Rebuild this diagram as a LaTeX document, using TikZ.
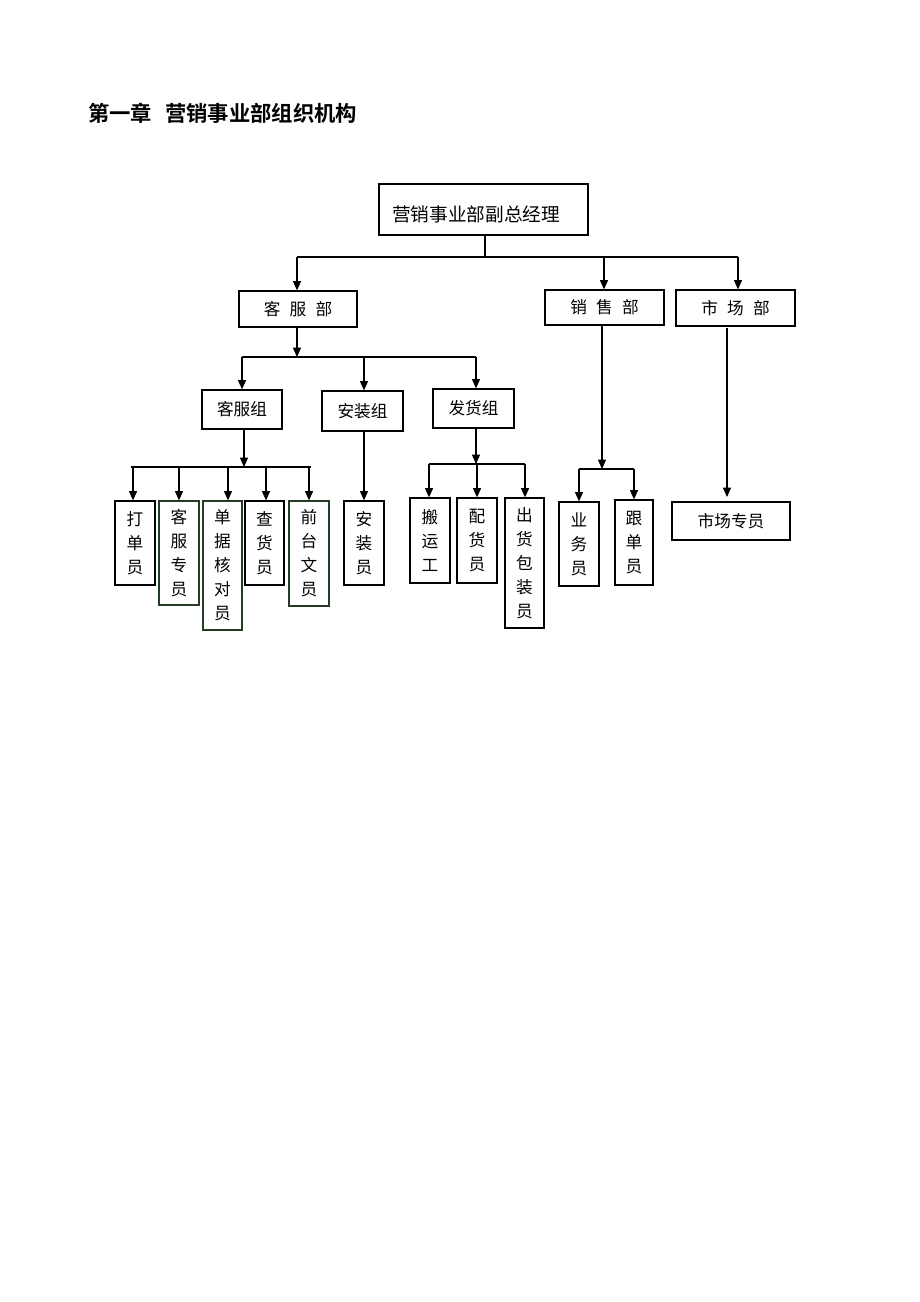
\documentclass[tikz,border=0pt]{standalone}
\usepackage{fontspec}
\setmainfont{Noto Sans CJK SC}
\newfontfamily\cjkbold{Noto Sans CJK SC Bold}
\usetikzlibrary{arrows.meta}
\definecolor{bdgreen}{RGB}{35,60,35}
\tikzset{
  box/.style={draw=black, line width=0.9pt, inner sep=0pt, align=center, font=\fontsize{12.5pt}{18pt}\selectfont},
  gbox/.style={box, draw=bdgreen},
  conn/.style={line width=0.9pt},
  arr/.style={line width=0.9pt, -{Triangle[length=7pt,width=6pt]}},
}
\newcommand{\bx}[7]{% style, name, cx, cy, w, h, text
  \node[#1, minimum width=#5*0.75pt, minimum height=#6*0.75pt] (#2) at (#3,#4) {#7};}
\begin{document}
\begin{tikzpicture}[x=0.75pt,y=-0.75pt]
\useasboundingbox[fill=white] (0,0) rectangle (920,1302);
\node[anchor=west, font=\cjkbold\fontsize{16pt}{18pt}\selectfont, inner sep=0pt] (title) at (88,113) {第一章\hspace{0.6em}营销事业部组织机构};

% level 0
\node[box, minimum width=209*0.75pt, minimum height=51*0.75pt, font=\fontsize{14pt}{18pt}\selectfont] (top) at (483.5,209.5) {\smash{\raisebox{-9pt}{营销事业部副总经理}}\hspace{11pt}};
% level 1
\bx{box}{kfb}{298}{309}{118}{36}{客\hspace{0.55em}服\hspace{0.55em}部}
\bx{box}{xsb}{604.5}{307.5}{119}{35}{销\hspace{0.55em}售\hspace{0.55em}部}
\bx{box}{scb}{735.5}{308}{119}{36}{市\hspace{0.55em}场\hspace{0.55em}部}
% level 2
\bx{box}{kfz}{242}{409.5}{80}{39}{客服组}
\bx{box}{azz}{362.5}{411}{81}{40}{安装组}
\bx{box}{fhz}{473.5}{408.5}{81}{39}{发货组}
% level 3
\bx{box}{ddy}{135}{543}{40}{84}{打\\单\\员}
\bx{gbox}{kfzy}{179}{553}{40}{104}{客\\服\\专\\员}
\bx{gbox}{djhd}{222.5}{565.5}{39}{129}{单\\据\\核\\对\\员}
\bx{box}{chy}{264.5}{543}{39}{84}{查\\货\\员}
\bx{gbox}{qtwy}{309}{553.5}{40}{105}{前\\台\\文\\员}
\bx{box}{azy}{364}{543}{40}{84}{安\\装\\员}
\bx{box}{byg}{430}{540.5}{40}{85}{搬\\运\\工}
\bx{box}{phy}{477}{540.5}{40}{85}{配\\货\\员}
\bx{box}{chbz}{524.5}{563}{39}{130}{出\\货\\包\\装\\员}
\bx{box}{ywy}{579}{544}{40}{84}{业\\务\\员}
\bx{box}{gdy}{634}{542.5}{38}{85}{跟\\单\\员}
\bx{box}{sczy}{731}{521}{118}{38}{市场专员}

% top distribution
\coordinate (j0) at (485,257);
\coordinate (h0l) at (297,257);
\coordinate (h0m) at (604,257);
\coordinate (h0r) at (738,257);
\draw[conn] (top.south -| j0) -- (j0);
\draw[conn] (h0l) -- (h0r);
\draw[arr] (h0l) -- (h0l |- kfb.north);
\draw[arr] (h0m) -- (h0m |- xsb.north);
\draw[arr] (h0r) -- (h0r |- scb.north);

% 客服部 distribution
\coordinate (j1) at (297,357);
\coordinate (h1l) at (242,357);
\coordinate (h1m) at (364,357);
\coordinate (h1r) at (476,357);
\draw[arr] (kfb.south -| j1) -- (j1);
\draw[conn] (h1l) -- (h1r);
\draw[arr] (h1l) -- (kfz.north);
\draw[arr] (h1m) -- (h1m |- azz.north);
\draw[arr] (h1r) -- (h1r |- fhz.north);

% 客服组 distribution
\coordinate (j2) at (244,467);
\coordinate (h2l) at (133,467);
\coordinate (h2a) at (228,467);
\coordinate (h2b) at (266,467);
\coordinate (h2r) at (309,467);
\draw[arr] (kfz.south -| j2) -- (j2);
\draw[conn] (131,467) -- (311,467);
\draw[arr] (h2l) -- (h2l |- ddy.north);
\draw[arr] (kfzy.north |- j2) -- (kfzy.north);
\draw[arr] (h2a) -- (h2a |- djhd.north);
\draw[arr] (h2b) -- (h2b |- chy.north);
\draw[arr] (h2r) -- (h2r |- qtwy.north);

% 安装组
\draw[arr] (azz.south -| azy.north) -- (azy.north);

% 发货组 distribution
\coordinate (j3) at (476,464);
\coordinate (h3l) at (429,464);
\coordinate (h3r) at (525,464);
\draw[arr] (fhz.south -| j3) -- (j3);
\draw[conn] (h3l) -- (h3r);
\draw[arr] (h3l) -- (h3l |- byg.north);
\draw[arr] (phy.north |- j3) -- (phy.north);
\draw[arr] (h3r) -- (h3r |- chbz.north);

% 销售部 distribution
\coordinate (j4) at (602,469);
\coordinate (h4l) at (579,469);
\coordinate (h4r) at (634,469);
\draw[arr] (xsb.south -| j4) -- (j4);
\draw[conn] (h4l) -- (h4r);
\draw[arr] (h4l) -- (ywy.north);
\draw[arr] (h4r) -- (gdy.north);

% 市场部
\coordinate (s5) at (727,328);
\coordinate (e5) at (727,497);
\draw[arr] (s5) -- (e5);
\end{tikzpicture}
\end{document}
